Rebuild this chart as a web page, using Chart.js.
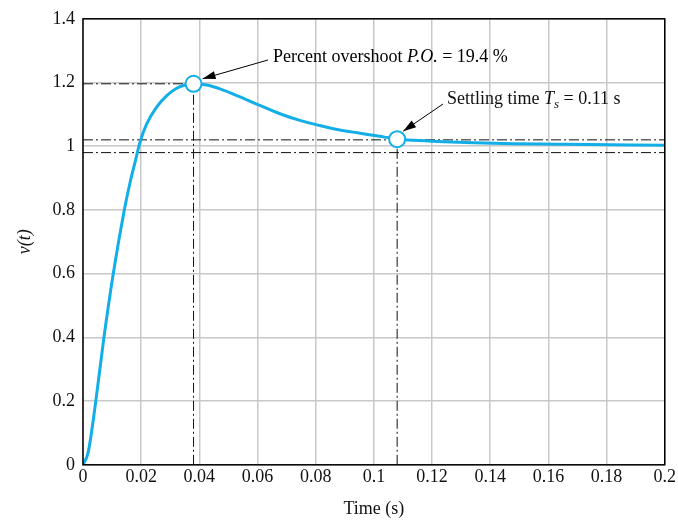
<!DOCTYPE html>
<html>
<head>
<meta charset="utf-8">
<script src="https://cdn.jsdelivr.net/npm/chart.js@4/dist/chart.umd.min.js"></script>
<style>
  html, body { margin: 0; padding: 0; background: #fff; }
  #wrap { width: 678px; height: 520px; }
</style>
</head>
<body>
<div id="wrap"><canvas id="chart" width="678" height="520"></canvas></div>
<script>
// Step response
const timeSec = [0, 0.0018, 0.0044, 0.0072, 0.0104, 0.0142, 0.0162, 0.0179, 0.0196, 0.0219,
    0.0253, 0.0288, 0.0322, 0.0351, 0.038, 0.0425, 0.0471, 0.054, 0.0608, 0.0677,
    0.0746, 0.0814, 0.0883, 0.0952, 0.102, 0.1078, 0.1135, 0.1318, 0.166, 0.2];
const voltage = [0, 0.04, 0.2, 0.4, 0.6, 0.8, 0.887, 0.95, 1.013, 1.07,
    1.123, 1.159, 1.182, 1.192, 1.196, 1.192, 1.18, 1.155, 1.128, 1.102,
    1.081, 1.065, 1.051, 1.041, 1.031, 1.023, 1.019, 1.012, 1.006, 1.003];

// Marked points: peak and settling
const peakPoint = { x: 0.038, y: 1.196 };
const settlePoint = { x: 0.108, y: 1.022 };
const bandUpper = 1.02;
const bandLower = 0.98;

const xTickLabels = ['0', '0.02', '0.04', '0.06', '0.08', '0.1', '0.12', '0.14', '0.16', '0.18', '0.2'];
const yTickLabels = ['0', '0.2', '0.4', '0.6', '0.8', '1', '1.2', '1.4'];

const BLUE = '#12aee8';
const SERIF = '"Liberation Serif", "DejaVu Serif", serif';
const dashDot = [10, 3, 2, 3];

const curve = timeSec.map((t, i) => ({ x: t, y: voltage[i] }));

function refLine(points) {
    return {
        data: points,
        borderColor: '#111',
        borderWidth: 1,
        borderDash: dashDot,
        pointRadius: 0,
        showLine: true,
        order: 3
    };
}

// Frame + annotations drawn on top
const annotate = {
    id: 'annotate',
    afterDatasetsDraw(chart) {
        const { ctx, chartArea: a, scales } = chart;
        const x = scales.x, y = scales.y;
        ctx.save();
        ctx.strokeStyle = '#000';
        ctx.lineWidth = 1.5;
        ctx.strokeRect(a.left, a.top, a.right - a.left, a.bottom - a.top);

        function arrow(x1, y1, x2, y2) {
            ctx.strokeStyle = '#000';
            ctx.fillStyle = '#000';
            ctx.lineWidth = 1;
            ctx.beginPath();
            ctx.moveTo(x1, y1);
            ctx.lineTo(x2, y2);
            ctx.stroke();
            const ang = Math.atan2(y2 - y1, x2 - x1);
            const len = 13, w = 4;
            ctx.beginPath();
            ctx.moveTo(x2, y2);
            ctx.lineTo(x2 - len * Math.cos(ang) + w * Math.sin(ang), y2 - len * Math.sin(ang) - w * Math.cos(ang));
            ctx.lineTo(x2 - len * Math.cos(ang) - w * Math.sin(ang), y2 - len * Math.sin(ang) + w * Math.cos(ang));
            ctx.closePath();
            ctx.fill();
        }

        function runs(parts, px, py) {
            ctx.textBaseline = 'alphabetic';
            ctx.textAlign = 'left';
            parts.forEach(p => {
                ctx.font = (p.italic ? 'italic ' : '') + (p.size || 18) + 'px ' + SERIF;
                ctx.fillText(p.text, px, py + (p.dy || 0));
                px += ctx.measureText(p.text).width;
            });
        }

        ctx.fillStyle = '#111';
        const px = x.getPixelForValue(peakPoint.x), py = y.getPixelForValue(peakPoint.y);
        arrow(268, 60, px + 9, py - 5);
        runs([
            { text: 'Percent overshoot ' },
            { text: 'P.O.', italic: true },
            { text: ' = 19.4 %' }
        ], 273, 62);

        const sx = x.getPixelForValue(settlePoint.x), sy = y.getPixelForValue(settlePoint.y);
        arrow(443, 104, sx + 6, sy - 8);
        ctx.fillStyle = '#111';
        runs([
            { text: 'Settling time ' },
            { text: 'T', italic: true },
            { text: 's', italic: true, size: 13, dy: 4 },
            { text: ' = 0.11 s' }
        ], 447, 104);
        ctx.restore();
    }
};

new Chart(document.getElementById('chart'), {
    type: 'scatter',
    data: {
        datasets: [
            {
                data: [peakPoint, settlePoint],
                pointRadius: 8,
                pointHoverRadius: 8,
                pointBackgroundColor: '#fff',
                pointBorderColor: BLUE,
                pointBorderWidth: 2,
                showLine: false,
                order: 0
            },
            {
                data: curve,
                showLine: true,
                borderColor: BLUE,
                borderWidth: 3,
                pointRadius: 0,
                cubicInterpolationMode: 'monotone',
                order: 1
            },
            refLine([{ x: 0, y: peakPoint.y }, { x: peakPoint.x, y: peakPoint.y }]),
            refLine([{ x: peakPoint.x, y: 0 }, { x: peakPoint.x, y: peakPoint.y }]),
            refLine([{ x: 0, y: bandUpper }, { x: 0.2, y: bandUpper }]),
            refLine([{ x: 0, y: bandLower }, { x: 0.2, y: bandLower }]),
            refLine([{ x: settlePoint.x, y: 0 }, { x: settlePoint.x, y: settlePoint.y }])
        ]
    },
    options: {
        responsive: false,
        animation: false,
        layout: { padding: { top: 17, right: 13, left: 0, bottom: 0 } },
        plugins: {
            legend: { display: false },
            tooltip: { enabled: false }
        },
        scales: {
            x: {
                type: 'linear',
                min: 0,
                max: 0.2,
                afterBuildTicks(axis) {
                    axis.ticks = xTickLabels.map(l => ({ value: parseFloat(l) }));
                },
                ticks: {
                    callback: (v, i) => xTickLabels[i],
                    color: '#111',
                    font: { family: SERIF, size: 18 },
                    padding: 2,
                    maxRotation: 0,
                    autoSkip: false
                },
                grid: { color: '#c8c8c8', lineWidth: 1.5, drawTicks: false },
                border: { display: false },
                title: {
                    display: true,
                    text: 'Time (s)',
                    color: '#111',
                    font: { family: SERIF, size: 18 },
                    padding: { top: 8, bottom: 0 }
                }
            },
            y: {
                min: 0,
                max: 1.4,
                afterBuildTicks(axis) {
                    axis.ticks = yTickLabels.map(l => ({ value: parseFloat(l) }));
                },
                afterFit(axis) { axis.width = 83; },
                ticks: {
                    callback: (v, i) => yTickLabels[i],
                    color: '#111',
                    font: { family: SERIF, size: 18 },
                    padding: 8
                },
                grid: { color: '#c8c8c8', lineWidth: 1.5, drawTicks: false },
                border: { display: false },
                title: {
                    display: true,
                    text: 'v(t)',
                    color: '#111',
                    font: { family: SERIF, size: 18, style: 'italic' },
                    padding: { top: 14, bottom: 0 }
                }
            }
        }
    },
    plugins: [annotate]
});
</script>
</body>
</html>
